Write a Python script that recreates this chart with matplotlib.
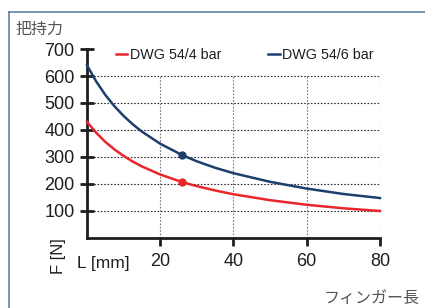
import matplotlib.pyplot as plt
from matplotlib.lines import Line2D

plt.rcParams['font.family'] = ['Liberation Sans', 'Noto Sans CJK JP', 'DejaVu Sans']

# finger length L [mm]
length = [0, 2.5, 5, 7.5, 10, 12.5, 15, 20, 26, 30, 35, 40, 50, 60, 70, 80]
# gripping force F [N]
force_4bar = [430, 390, 356, 328, 304, 283, 265, 235, 207, 192, 176, 162, 140, 123, 110, 100]
force_6bar = [640, 580, 530, 488, 452, 421, 394, 349, 307, 284, 260, 240, 208, 183, 163, 148]
marker_len = 26
marker_4bar = 207
marker_6bar = 307

y_ticks = [100, 200, 300, 400, 500, 600, 700]
x_ticks = [20, 40, 60, 80]

red = '#e8262b'
blue = '#1d3f6e'
dark = '#1e1e1e'

fig = plt.figure(figsize=(4.25, 3.08), dpi=100)
ax = fig.add_axes([0.2047, 0.2273, 0.6894, 0.6136])

# dotted grid, only up to 600
for y in y_ticks[:-1]:
    ax.hlines(y, 0, 80, colors='#333333', linestyles=(0, (1.5, 1.5)), linewidth=0.8, zorder=1)
for x in x_ticks:
    ax.vlines(x, 0, 600, colors='#777777', linestyles=(0, (1.5, 1.5)), linewidth=0.8, zorder=1)

ax.plot(length, force_4bar, color=red, lw=1.8, label='DWG 54/4 bar', clip_on=False, zorder=3)
ax.plot(length, force_6bar, color=blue, lw=1.8, label='DWG 54/6 bar', clip_on=False, zorder=3)
ax.plot(marker_len, marker_4bar, 'o', color=red, ms=5, zorder=4)
ax.plot(marker_len, marker_6bar, 'o', color=blue, ms=5, zorder=4)

ax.set_xlim(0, 80)
ax.set_ylim(0, 700)
ax.set_xticks(x_ticks)
ax.set_yticks(y_ticks)
for s in ['top', 'right']:
    ax.spines[s].set_visible(False)
for s in ['left', 'bottom']:
    ax.spines[s].set_linewidth(2)
    ax.spines[s].set_color(dark)
ax.tick_params(axis='y', direction='inout', length=10, width=2, color=dark,
               labelsize=13, labelcolor=dark, pad=4)
ax.tick_params(axis='x', direction='out', length=6, width=2, color=dark,
               labelsize=13, labelcolor=dark, pad=5)
ax.patch.set_visible(False)

ax.legend(ncol=2, loc='center left', bbox_to_anchor=(0.055, 0.97), frameon=False,
          handlelength=0.8, handletextpad=0.15, columnspacing=3.3, fontsize=10.3,
          labelcolor=dark)

fig.text(0.137, 0.17, 'F [N]', rotation=90, ha='center', va='center', fontsize=12, color=dark)
fig.text(0.181, 0.143, 'L [mm]', ha='left', va='center', fontsize=12.5, color=dark)
fig.text(0.036, 0.905, '把持力', ha='left', va='center', fontsize=11.5, color='#555555')
fig.text(0.988, 0.03, 'フィンガー長', ha='right', va='center', fontsize=11.5, color='#555555')

# blue frame lines (top and left)
frame = '#5b84a8'
fig.add_artist(Line2D([0.021, 1.0], [0.961, 0.961], color=frame, lw=1.2))
fig.add_artist(Line2D([0.021, 0.021], [0.0, 0.961], color=frame, lw=1.2))

fig.savefig('out.png', dpi=100)
